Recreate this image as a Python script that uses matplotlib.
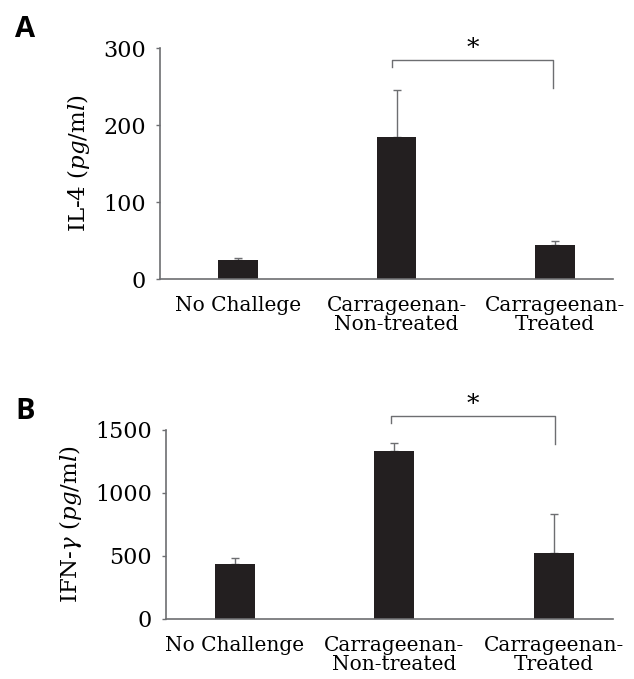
import matplotlib.pyplot as plt

groups_a = ['No Challege', 'Carrageenan-\nNon-treated', 'Carrageenan-\nTreated']
il4_mean = [25, 185, 44]
il4_err = [3, 60, 5]

groups_b = ['No Challenge', 'Carrageenan-\nNon-treated', 'Carrageenan-\nTreated']
ifng_mean = [439, 1331, 521]
ifng_err = [48, 63, 310]

BAR = '#231f20'
AXC = '#6d6e71'
plt.rcParams['font.family'] = 'DejaVu Serif'
plt.rcParams['mathtext.fontset'] = 'dejavuserif'

fig = plt.figure(figsize=(6.34, 6.79), dpi=100)


def panel(ax, labels, mean, err, ylim, yticks, ylabel, bracket):
    x = list(range(len(mean)))
    ax.bar(x, mean, width=0.25, color=BAR, zorder=2)
    ax.errorbar(x, mean, yerr=[[0] * len(err), err], fmt='none',
                ecolor=AXC, elinewidth=1.0, capsize=3, capthick=1.0, zorder=1)
    ax.set_ylim(*ylim)
    ax.set_yticks(yticks)
    ax.set_xticks(x)
    ax.set_xticklabels(labels, fontsize=14.5, linespacing=1.05)
    ax.tick_params(axis='x', length=0, pad=12)
    ax.tick_params(axis='y', labelsize=16, length=3, width=1, color=AXC, pad=7)
    for s in ['top', 'right']:
        ax.spines[s].set_visible(False)
    for s in ['left', 'bottom']:
        ax.spines[s].set_color(AXC)
        ax.spines[s].set_linewidth(1.2)
    ax.set_ylabel(ylabel, fontsize=16.5, labelpad=8)
    # significance bracket
    yb, yl, yr, xl, xr = bracket
    ax.plot([xl, xl, xr, xr], [yl, yb, yb, yr], color=AXC, lw=1.0, clip_on=False)
    ax.text((xl + xr) / 2, yb, '*', ha='center', va='bottom', fontsize=18)


ax1 = fig.add_axes([0.2524, 0.589, 0.7145, 0.3402])
panel(ax1, groups_a, il4_mean, il4_err, (0, 300), [0, 100, 200, 300],
      r'IL-4 ($\it{pg}$/m$\it{l}$)', (284, 275, 248, 0.97, 1.99))
ax1.set_xlim(-0.492, 2.366)

ax2 = fig.add_axes([0.2618, 0.0884, 0.705, 0.2784])
panel(ax2, groups_b, ifng_mean, ifng_err, (0, 1500), [0, 500, 1000, 1500],
      r'IFN-$\gamma$ ($\it{pg}$/m$\it{l}$)', (1611, 1556, 1389, 0.98, 2.01))
ax2.set_xlim(-0.43, 2.37)

fig.text(15 / 634, 1 - 37 / 679, 'A', fontsize=21, fontweight='bold', family='Open Sans')
fig.text(15 / 634, 1 - 419 / 679, 'B', fontsize=21, fontweight='bold', family='Open Sans')

fig.savefig('out.png', dpi=100)
